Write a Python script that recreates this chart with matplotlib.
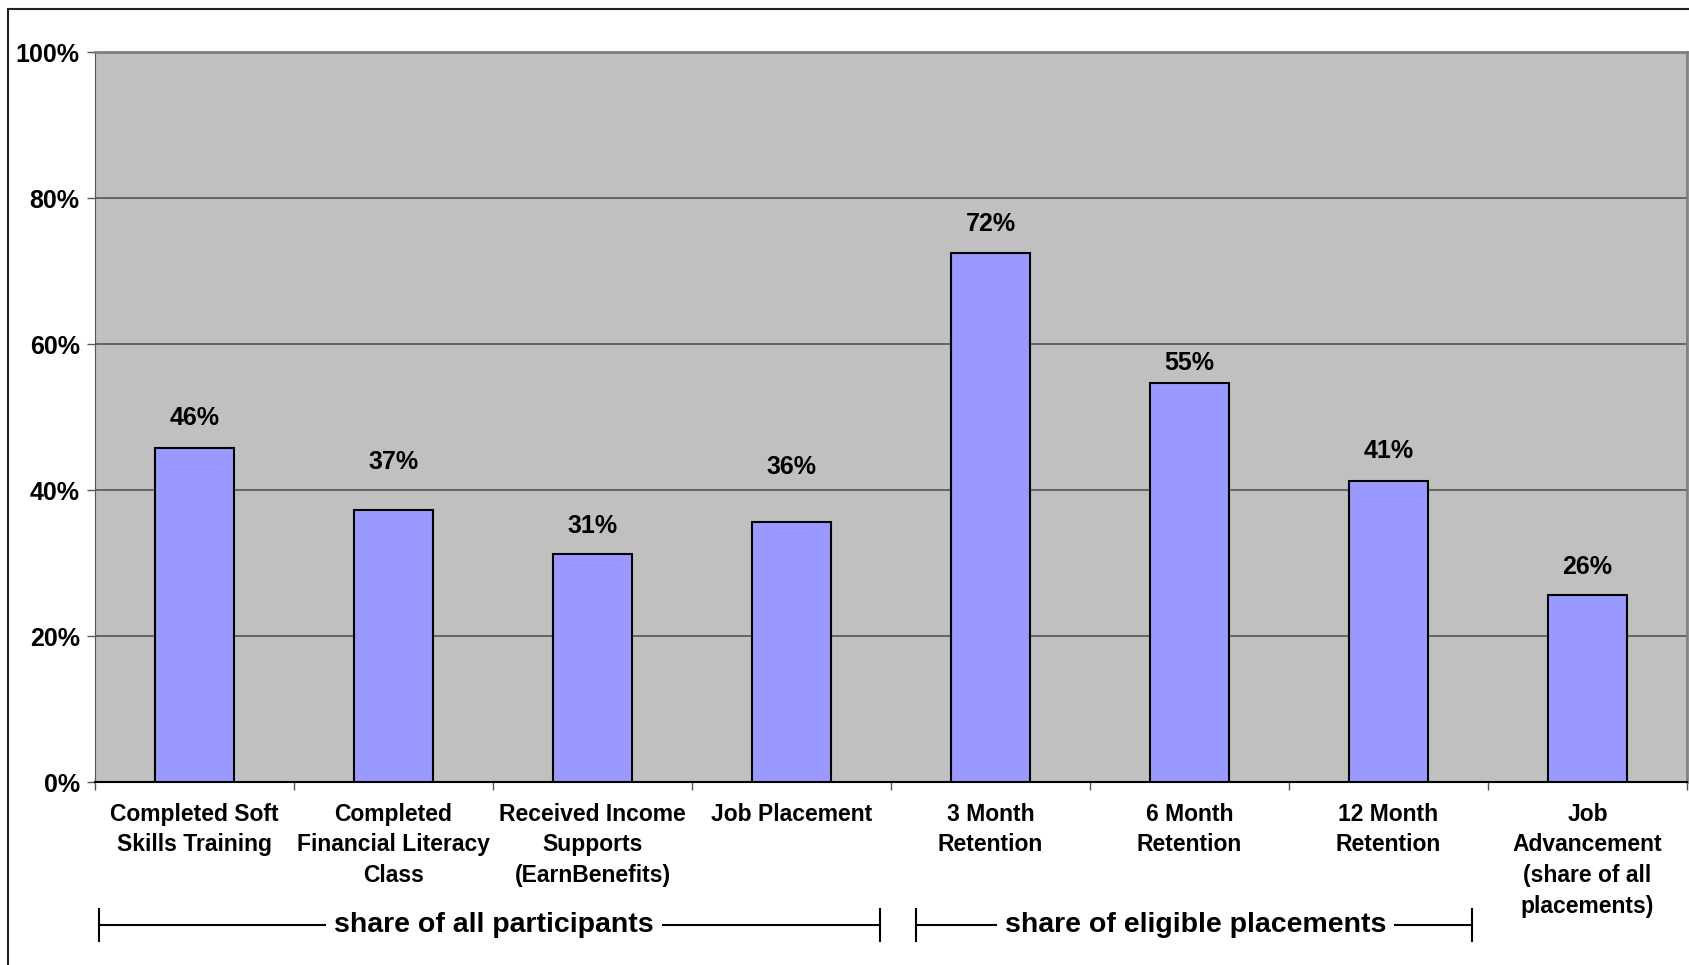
import matplotlib
matplotlib.use("Agg")
import matplotlib.pyplot as plt
from matplotlib.patches import Rectangle
from matplotlib.ticker import FixedLocator, PercentFormatter

plt.rcParams['font.family'] = ['Liberation Sans', 'DejaVu Sans']
plt.rcParams['font.weight'] = 'bold'

# program outcome rates (percent)
categories = [
    "Completed Soft\nSkills Training",
    "Completed\nFinancial Literacy\nClass",
    "Received Income\nSupports\n(EarnBenefits)",
    "Job Placement",
    "3 Month\nRetention",
    "6 Month\nRetention",
    "12 Month\nRetention",
    "Job\nAdvancement\n(share of all\nplacements)",
]
rates = [45.8, 37.2, 31.3, 35.6, 72.4, 54.7, 41.3, 25.6]
y_ticks = [0, 20, 40, 60, 80, 100]

# how far each value label sits above its bar, in points
label_offsets = [21, 35, 20, 40, 21, 14, 21, 20]

fig = plt.figure(figsize=(16.9, 9.65), dpi=100)
ax = fig.add_axes([95 / 1690, 1 - 782 / 965, (1687 - 95) / 1690, (782 - 52) / 965])

ax.set_facecolor('#c0c0c0')
x = list(range(len(categories)))
ax.bar(x, rates, width=0.4, color='#9999ff', edgecolor='black', linewidth=1.5, zorder=3)

ax.set_xlim(-0.5, len(categories) - 0.5)
ax.set_ylim(0, 100)
ax.set_yticks(y_ticks)
ax.yaxis.set_major_formatter(PercentFormatter(decimals=0))
ax.grid(axis='y', color='#555555', linewidth=1.2, zorder=1)

ax.set_xticks(x)
ax.set_xticklabels(categories, fontsize=16.5, linespacing=1.42)
ax.tick_params(axis='x', which='major', length=0, pad=15)
ax.xaxis.set_minor_locator(FixedLocator([i - 0.5 for i in range(len(categories) + 1)]))
ax.tick_params(axis='x', which='minor', length=6, width=1, color='#555555')
ax.tick_params(axis='y', labelsize=18, length=6, width=1, color='#555555', pad=5)

for side in ['top', 'right']:
    ax.spines[side].set_color('#808080')
    ax.spines[side].set_linewidth(2)
ax.spines['left'].set_color('#555555')
ax.spines['bottom'].set_color('black')
ax.spines['bottom'].set_linewidth(1.5)

for xi, r, off in zip(x, rates, label_offsets):
    ax.annotate(f"{r:.0f}%", (xi, r), xytext=(0, off), textcoords='offset points',
                ha='center', va='center', fontsize=18, zorder=4)

# group brackets under the category labels
tr = ax.get_xaxis_transform()
bracket_y = -0.196
groups = [(-0.48, 3.445, 1.505, "share of all participants"),
          (3.626, 6.42, 5.03, "share of eligible placements")]
for x0, x1, xm, label in groups:
    ax.plot([x0, x1], [bracket_y, bracket_y], color='black', lw=1.5,
            transform=tr, clip_on=False)
    for xe in (x0, x1):
        ax.plot([xe, xe], [bracket_y - 0.022, bracket_y + 0.022], color='black', lw=1.5,
                transform=tr, clip_on=False)
    ax.text(xm, bracket_y, label, transform=tr, ha='center', va='center', fontsize=20.5,
            bbox=dict(facecolor='white', edgecolor='none', pad=6))

# outer chart frame
fig.patches.append(Rectangle((8 / 1690, -0.1), 1.2, 1 - 9 / 965 + 0.1, transform=fig.transFigure,
                             fill=False, edgecolor='#222222', linewidth=1.5))

fig.savefig('out.png', dpi=100, facecolor='white')
